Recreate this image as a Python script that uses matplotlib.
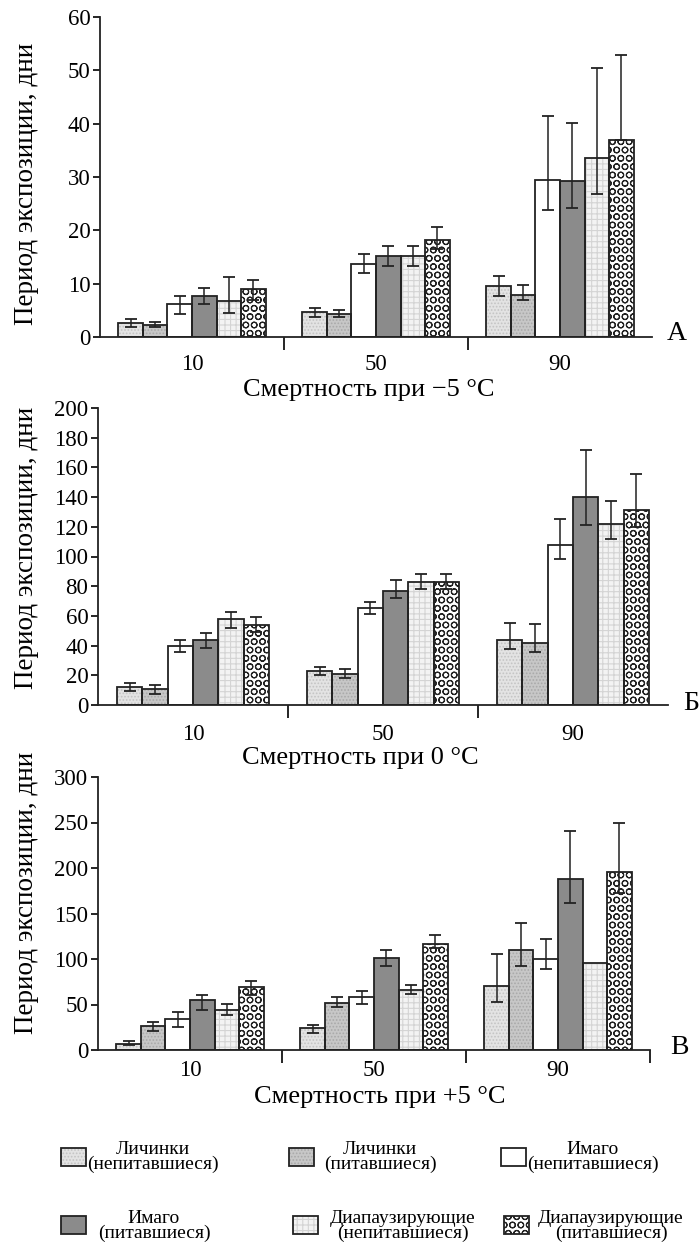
import matplotlib
matplotlib.use("Agg")
import matplotlib.pyplot as plt
import numpy as np
from matplotlib.patches import Rectangle

plt.rcParams['font.family'] = ['Liberation Serif', 'DejaVu Serif']
plt.rcParams['hatch.linewidth'] = 0.8

# ---------------- data ----------------
categories = ['10', '50', '90']
series = ['Личинки\n(непитавшиеся)', 'Личинки\n(питавшиеся)', 'Имаго\n(непитавшиеся)',
          'Имаго\n(питавшиеся)', 'Диапаузирующие\n(непитавшиеся)', 'Диапаузирующие\n(питавшиеся)']

# panel A: -5 °C (rows = categories, cols = series)
a_vals = [[2.7, 2.3, 6.2, 7.7, 6.8, 9.0],
          [4.6, 4.4, 13.6, 15.2, 15.2, 18.2],
          [9.5, 7.9, 29.5, 29.3, 33.6, 36.9]]
a_low = [[1.9, 1.8, 4.4, 6.2, 4.5, 7.0],
         [3.8, 3.8, 12.0, 13.3, 13.3, 16.5],
         [7.7, 6.9, 23.9, 24.2, 26.9, 36.9]]
a_high = [[3.3, 2.9, 7.6, 9.1, 11.2, 10.6],
          [5.4, 5.0, 15.5, 17.0, 17.0, 20.6],
          [11.5, 9.7, 41.5, 40.2, 50.4, 52.8]]

# panel Б: 0 °C
b_vals = [[12, 10.5, 40, 44, 58, 54],
          [23, 21, 65, 77, 83, 83],
          [44, 42, 108, 140, 122, 131]]
b_low = [[9.5, 7.5, 35.5, 38.5, 52, 49],
         [20, 18, 61, 72, 78, 78],
         [38, 36, 98, 121, 111.5, 120]]
b_high = [[14.5, 13.5, 44, 48.5, 62.5, 59.5],
          [25.5, 24, 69.5, 84, 88, 88.5],
          [55, 54.5, 125.5, 172, 137.5, 155.5]]

# panel В: +5 °C
c_vals = [[7, 26, 34, 55, 44, 69],
          [24, 52, 58, 101, 66, 117],
          [70, 110, 100, 188, 96, 196]]
c_low = [[5, 21, 25, 44, 38, 60],
         [19, 47, 51, 92, 61, 112],
         [53, 92, 89, 161, 96, 172]]
c_high = [[10, 31, 42, 60, 51, 76],
          [28, 58, 65, 110, 71, 126],
          [106, 140, 122, 241, 96, 249]]

xlabels = ['Смертность при \u22125 °C', 'Смертность при 0 °C', 'Смертность при +5 °C']
ylabel = 'Период экспозиции, дни'
panel_letters = ['А', 'Б', 'В']

# ---------------- styles ----------------
styles = [
    dict(fc='#e3e3e3', hc='#c4c4c4', hatch='.....'),
    dict(fc='#c7c7c7', hc='#a9a9a9', hatch='.....'),
    dict(fc='#ffffff', hc='#ffffff', hatch=None),
    dict(fc='#8b8b8b', hc='#8b8b8b', hatch=None),
    dict(fc='#f3f3f3', hc='#d4d4d4', hatch='+++'),
    dict(fc='#ffffff', hc='#222222', hatch='OO'),
]

W, H = 699, 1245
fig = plt.figure(figsize=(W / 100, H / 100), dpi=100)


def frac_axes(l, r, top, bot):
    return fig.add_axes([l / W, 1 - bot / H, (r - l) / W, (bot - top) / H])


panels = [
    dict(box=(100, 652, 17, 337), vals=a_vals, lo=a_low, hi=a_high, ymax=60, step=10,
         letter_xy=(667, 333), endtick=False, xl=(369, 390), yl=184, pad=12.5),
    dict(box=(98, 668, 408, 705), vals=b_vals, lo=b_low, hi=b_high, ymax=200, step=20,
         letter_xy=(683, 703), endtick=False, xl=(360, 758), yl=548, pad=14),
    dict(box=(98, 650, 777, 1050), vals=c_vals, lo=c_low, hi=c_high, ymax=300, step=50,
         letter_xy=(670, 1048), endtick=True, xl=(380, 1097), yl=893, pad=7.5),
]

nser = len(series)
bw = 0.8 / nser
x = np.arange(len(categories))

for i, p in enumerate(panels):
    l, r, t, b = p['box']
    ax = frac_axes(l, r, t, b)
    vals = np.array(p['vals'], dtype=float)
    lo = np.array(p['lo'], dtype=float)
    hi = np.array(p['hi'], dtype=float)
    for s in range(nser):
        st = styles[s]
        xs = x - 0.4 + bw * (s + 0.5)
        ax.bar(xs, vals[:, s], width=bw, color=st['fc'], edgecolor=st['hc'],
               hatch=st['hatch'], linewidth=0, zorder=2)
        ax.bar(xs, vals[:, s], width=bw, fill=False, edgecolor='#222222',
               linewidth=1.3, zorder=3)
        yerr = np.vstack([vals[:, s] - lo[:, s], hi[:, s] - vals[:, s]])
        mask = (yerr.sum(axis=0) > 0)
        ax.errorbar(xs[mask], vals[mask, s], yerr=yerr[:, mask], fmt='none',
                    ecolor='#222222', elinewidth=1.1, capsize=4, capthick=1.3, zorder=4)
    ax.set_xlim(-0.5, 2.5)
    ax.set_ylim(0, p['ymax'])
    ax.set_yticks(np.arange(0, p['ymax'] + 1, p['step']))
    sep = [0.5, 1.5, 2.5] if p['endtick'] else [0.5, 1.5]
    ax.set_xticks(sep)
    ax.set_xticklabels([''] * len(sep))
    ax.set_xticks(x, minor=True)
    ax.set_xticklabels(categories, minor=True)
    ax.tick_params(axis='x', which='major', length=9, width=1.2, direction='out')
    ax.tick_params(axis='x', which='minor', length=0, pad=p['pad'], labelsize=16.5)
    ax.tick_params(axis='y', length=5, width=1.2, direction='out', labelsize=16.5, pad=2)
    for sp in ['top', 'right']:
        ax.spines[sp].set_visible(False)
    for sp in ['left', 'bottom']:
        ax.spines[sp].set_linewidth(1.3)
        ax.spines[sp].set_color('#222222')
    fig.text(27 / W, 1 - p['yl'] / H, ylabel, fontsize=19.5, rotation=90,
             ha='center', va='center')
    fig.text(p['xl'][0] / W, 1 - p['xl'][1] / H, xlabels[i], fontsize=19,
             ha='center', va='center')
    fig.text(p['letter_xy'][0] / W, 1 - p['letter_xy'][1] / H, panel_letters[i],
             fontsize=20, ha='left', va='center')

# ---------------- legend ----------------
# (patch_left, patch_top, text_center_x, text_center_y)
leg_pos = [(61, 1148, 153, 1157), (289, 1148, 380, 1157), (501, 1148, 593, 1157),
           (61, 1216, 154, 1226), (293, 1216, 403, 1226), (504, 1216, 611, 1226)]
for s, (px, py, tx, ty) in enumerate(leg_pos):
    st = styles[s]
    pw, ph = 25, 18
    rect = Rectangle((px / W, 1 - (py + ph) / H), pw / W, ph / H, transform=fig.transFigure,
                     facecolor=st['fc'], edgecolor=st['hc'], hatch=st['hatch'], linewidth=0)
    fig.patches.append(rect)
    rect2 = Rectangle((px / W, 1 - (py + ph) / H), pw / W, ph / H, transform=fig.transFigure,
                      fill=False, edgecolor='#222222', linewidth=1.3)
    fig.patches.append(rect2)
    fig.text(tx / W, 1 - ty / H, series[s], fontsize=14, ha='center', va='center',
             linespacing=0.85, multialignment='center')

fig.savefig('out.png', dpi=100)
